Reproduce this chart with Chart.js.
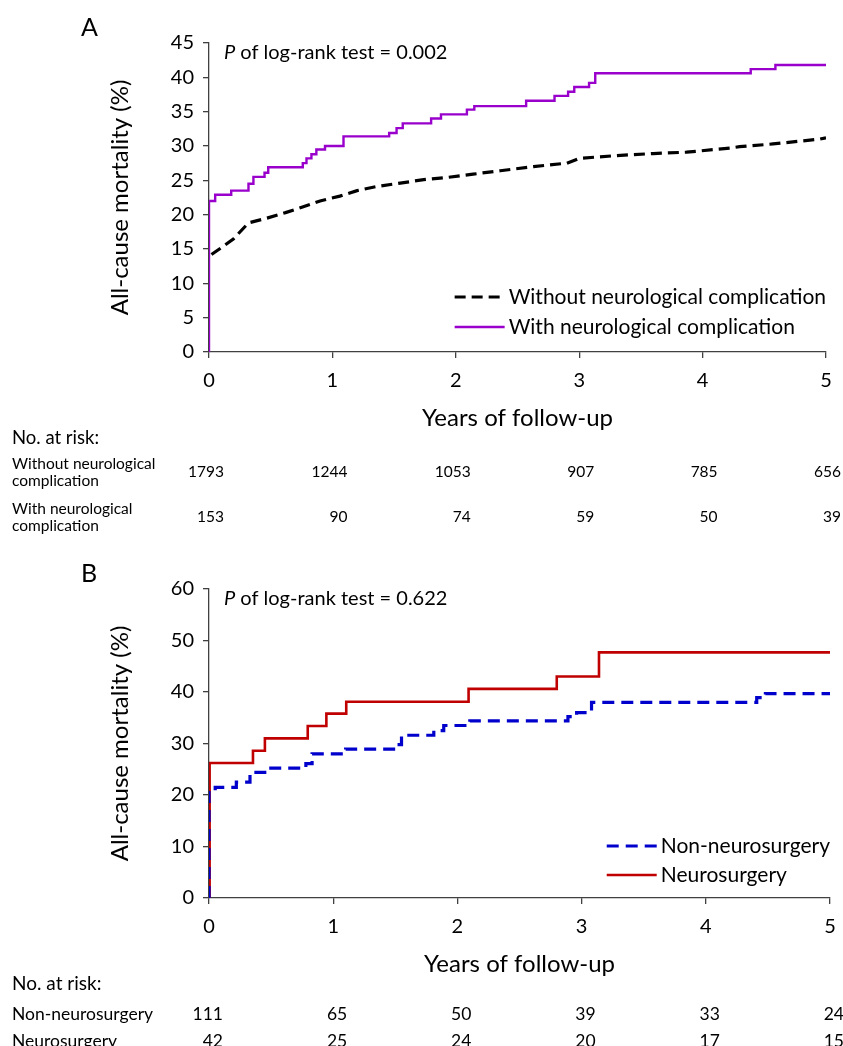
<!DOCTYPE html>
<html>
<head>
<meta charset="utf-8">
<script src="https://cdn.jsdelivr.net/npm/chart.js@4"></script>
<style>
html, body { margin: 0; padding: 0; background: #fff; overflow: hidden; }
canvas { display: block; position: absolute; left: 0; }
#panelA { top: 0; }
#panelB { top: 546px; }
</style>
</head>
<body>
<canvas id="panelA" width="843" height="546"></canvas>
<canvas id="panelB" width="843" height="546"></canvas>
<script>
const FONT = 'Lato, "Open Sans", sans-serif';
const AXIS = '#404040';

// shared
const riskTimes = [0, 1, 2, 3, 4, 5];

// Panel A
const aSeriesNames = ['Without neurological complication', 'With neurological complication'];
const aWithoutX = [0.02, 0.10, 0.20, 0.32, 0.47, 0.62, 0.74, 0.90, 1.06, 1.20, 1.36, 1.55, 1.74, 1.92, 2.14, 2.36, 2.63, 2.90, 3.00, 3.30, 3.60, 3.87, 4.22, 4.30, 4.57, 4.95, 5.00];
const aWithoutY = [14.2, 15.2, 16.5, 18.8, 19.5, 20.3, 21.0, 22.0, 22.7, 23.5, 24.1, 24.6, 25.1, 25.4, 25.9, 26.4, 27.0, 27.5, 28.2, 28.6, 28.9, 29.1, 29.7, 29.9, 30.3, 31.0, 31.2];
const aWithX = [0, 0, 0.05, 0.18, 0.32, 0.36, 0.45, 0.48, 0.76, 0.79, 0.83, 0.87, 0.94, 1.09, 1.46, 1.52, 1.57, 1.80, 1.88, 2.09, 2.15, 2.57, 2.80, 2.91, 2.96, 3.08, 3.13, 4.39, 4.59, 5.00];
const aWithY = [0, 22.0, 22.9, 23.5, 24.5, 25.5, 26.1, 26.9, 27.5, 28.2, 28.8, 29.5, 30.0, 31.4, 31.9, 32.6, 33.3, 34.0, 34.6, 35.3, 35.8, 36.6, 37.3, 37.9, 38.6, 39.2, 40.6, 41.2, 41.8, 41.8];
const aRiskLabels = [['Without neurological', 'complication'], ['With neurological', 'complication']];
const aRiskWithout = [1793, 1244, 1053, 907, 785, 656];
const aRiskWith = [153, 90, 74, 59, 50, 39];
const aPValue = '0.002';

// Panel B
const bSeriesNames = ['Non-neurosurgery', 'Neurosurgery'];
const bNonX = [0, 0, 0.05, 0.22, 0.33, 0.48, 0.78, 0.83, 1.10, 1.50, 1.55, 1.81, 1.89, 2.10, 2.89, 2.96, 3.08, 4.41, 4.48, 5.00];
const bNonY = [0, 20.8, 21.5, 22.5, 24.4, 25.2, 26.1, 28.0, 28.9, 29.8, 31.6, 32.5, 33.5, 34.4, 35.2, 36.0, 38.0, 38.9, 39.7, 39.7];
const bNeuroX = [0, 0.005, 0.354, 0.45, 0.795, 0.945, 1.105, 2.09, 2.80, 3.14, 5.00];
const bNeuroY = [0, 26.2, 28.6, 31.0, 33.4, 35.8, 38.1, 40.6, 43.0, 47.7, 47.7];
const bRiskLabels = [['Non-neurosurgery'], ['Neurosurgery']];
const bRiskNon = [111, 65, 50, 39, 33, 24];
const bRiskNeuro = [42, 25, 24, 20, 17, 15];
const bPValue = '0.622';

const toPoints = (xs, ys) => xs.map((x, i) => ({ x: x, y: ys[i] }));

// legend drawn inside the plot, bottom right
const insideLegend = {
    id: 'insideLegend',
    afterDatasetsDraw(chart, args, opts) {
        const ctx = chart.ctx;
        const area = chart.chartArea;
        ctx.save();
        ctx.font = opts.fontSize + 'px ' + FONT;
        const textW = Math.max(...chart.data.datasets.map(d => ctx.measureText(d.label).width));
        const textX = area.right - textW;
        const sampleEnd = textX - 4;
        const sampleStart = sampleEnd - opts.sampleWidth;
        chart.data.datasets.forEach((d, i) => {
            const y = area.bottom - opts.rowOffsets[i];
            ctx.strokeStyle = d.borderColor;
            ctx.lineWidth = d.borderWidth;
            ctx.setLineDash(d.borderDash || []);
            ctx.beginPath();
            ctx.moveTo(sampleStart, y);
            ctx.lineTo(sampleEnd, y);
            ctx.stroke();
            ctx.setLineDash([]);
            ctx.fillStyle = '#000';
            ctx.textBaseline = 'middle';
            ctx.textAlign = 'left';
            ctx.fillText(d.label, textX, y);
        });
        ctx.restore();
    }
};

// panel letter + log-rank annotation
const panelText = {
    id: 'panelText',
    afterDraw(chart, args, opts) {
        const ctx = chart.ctx;
        const area = chart.chartArea;
        ctx.save();
        ctx.fillStyle = '#000';
        ctx.textBaseline = 'middle';
        ctx.textAlign = 'left';
        ctx.font = '25px ' + FONT;
        ctx.fillText(opts.letter, 81, 28);
        const px = area.left + 15, py = area.top + 10;
        ctx.font = 'italic 20px ' + FONT;
        ctx.fillText('P', px, py);
        const w = ctx.measureText('P').width;
        ctx.font = '20px ' + FONT;
        ctx.fillText(' of log-rank test = ' + opts.pValue, px + w, py);
        ctx.restore();
    }
};

// "No. at risk" table under the x axis
const riskTable = {
    id: 'riskTable',
    afterDraw(chart, args, opts) {
        const ctx = chart.ctx;
        const xs = chart.scales.x;
        const base = chart.chartArea.bottom;
        ctx.save();
        ctx.fillStyle = '#000';
        ctx.textBaseline = 'middle';
        ctx.textAlign = 'left';
        ctx.font = opts.headerSize + 'px ' + FONT;
        ctx.fillText('No. at risk:', opts.left, base + opts.headerOffset);
        ctx.font = opts.rowSize + 'px ' + FONT;
        opts.rows.forEach((row, i) => {
            const cy = base + opts.rowOffsets[i];
            ctx.textAlign = 'left';
            row.label.forEach((line, j) => {
                ctx.fillText(line, opts.left, cy + (j - (row.label.length - 1) / 2) * opts.lineGap);
            });
            ctx.textAlign = 'right';
            row.counts.forEach((n, k) => {
                ctx.fillText(String(n), xs.getPixelForValue(riskTimes[k]) + opts.numShift, cy);
            });
        });
        ctx.restore();
    }
};

function axisStyle() {
    return {
        grid: { display: true, drawOnChartArea: false, drawTicks: true, tickLength: 6, color: AXIS, lineWidth: 1.3 },
        border: { display: true, color: AXIS, width: 1.3 }
    };
}

function makeOptions(yMax, yStep, rightPad, extra) {
    return {
        responsive: false,
        animation: false,
        events: [],
        layout: { padding: { left: 103, right: rightPad, top: 43, bottom: 113 } },
        plugins: Object.assign({
            legend: { display: false },
            tooltip: { enabled: false }
        }, extra),
        scales: {
            x: Object.assign({
                type: 'linear',
                min: 0,
                max: 5,
                ticks: { stepSize: 1, color: '#000', font: { family: FONT, size: 20 }, padding: 11 },
                title: { display: true, text: 'Years of follow-up', color: '#000', font: { family: FONT, size: 24 }, padding: 0 },
                afterFit: s => {
                    s.height = 81;
                    s.paddingLeft = 0;
                    s.paddingRight = 0;
                }
            }, axisStyle()),
            y: Object.assign({
                min: 0,
                max: yMax,
                ticks: { stepSize: yStep, color: '#000', font: { family: FONT, size: 20 }, padding: 9 },
                title: { display: true, text: 'All-cause mortality (%)', color: '#000', font: { family: FONT, size: 24 }, padding: 3 },
                afterFit: s => { s.width = 106; }
            }, axisStyle())
        }
    };
}

const lineBase = { pointRadius: 0, tension: 0, fill: false };

new Chart(document.getElementById('panelA').getContext('2d'), {
    type: 'line',
    data: {
        datasets: [
            Object.assign({
                label: aSeriesNames[0],
                data: toPoints(aWithoutX, aWithoutY),
                borderColor: '#000000',
                borderWidth: 3.2,
                borderDash: [11, 6]
            }, lineBase),
            Object.assign({
                label: aSeriesNames[1],
                data: toPoints(aWithX, aWithY),
                borderColor: '#9900CC',
                borderWidth: 2.4,
                stepped: 'before'
            }, lineBase)
        ]
    },
    options: makeOptions(45, 5, 17, {
        insideLegend: { fontSize: 21, sampleWidth: 50, rowOffsets: [55, 25] },
        panelText: { letter: 'A', pValue: aPValue },
        riskTable: {
            left: 12, headerOffset: 86, lineGap: 17, numShift: 15, rowOffsets: [120, 165],
            headerSize: 18.5, rowSize: 15.5,
            rows: [
                { label: aRiskLabels[0], counts: aRiskWithout },
                { label: aRiskLabels[1], counts: aRiskWith }
            ]
        }
    }),
    plugins: [insideLegend, panelText, riskTable]
});

new Chart(document.getElementById('panelB').getContext('2d'), {
    type: 'line',
    data: {
        datasets: [
            Object.assign({
                label: bSeriesNames[0],
                data: toPoints(bNonX, bNonY),
                borderColor: '#0000CC',
                borderWidth: 3.2,
                borderDash: [12, 7],
                stepped: 'before'
            }, lineBase),
            Object.assign({
                label: bSeriesNames[1],
                data: toPoints(bNeuroX, bNeuroY),
                borderColor: '#C00000',
                borderWidth: 2.6,
                stepped: 'before'
            }, lineBase)
        ]
    },
    options: makeOptions(60, 10, 13, {
        insideLegend: { fontSize: 21, sampleWidth: 50, rowOffsets: [52, 23] },
        panelText: { letter: 'B', pValue: bPValue },
        riskTable: {
            left: 12, headerOffset: 86, lineGap: 17, numShift: 14, rowOffsets: [116, 143],
            headerSize: 19, rowSize: 17.5,
            rows: [
                { label: bRiskLabels[0], counts: bRiskNon },
                { label: bRiskLabels[1], counts: bRiskNeuro }
            ]
        }
    }),
    plugins: [insideLegend, panelText, riskTable]
});
</script>
</body>
</html>
